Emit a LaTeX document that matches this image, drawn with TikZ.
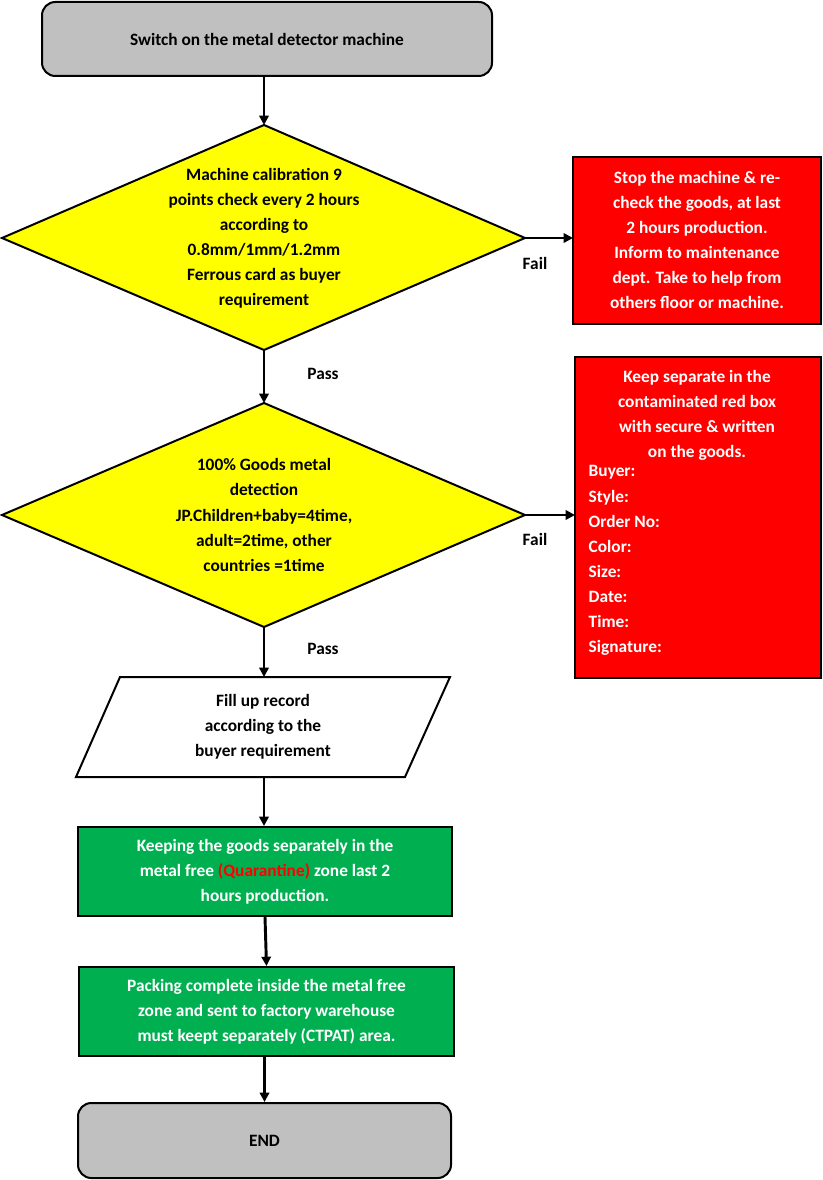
\documentclass[tikz,border=0pt]{standalone}
\usepackage{fontspec}
\setmainfont{Carlito}
\usetikzlibrary{arrows.meta,shapes.geometric}
\begin{document}
\begin{tikzpicture}[x=0.75pt,y=-0.75pt,
  txt/.style={font=\bfseries\fontsize{13}{18.8}\selectfont,align=center},
  box/.style={draw=black,line width=1.5pt},
  arr/.style={line width=2.2pt,-{Triangle[length=7pt,width=7pt]}},
  lbl/.style={font=\bfseries\fontsize{13}{16}\selectfont}]
\useasboundingbox (0,0) rectangle (823,1180);
\definecolor{gr}{RGB}{192,192,192}
\definecolor{yl}{RGB}{255,255,0}
\definecolor{rd}{RGB}{255,0,0}
\definecolor{gn}{RGB}{0,176,80}
% start
\draw[box,fill=gr,rounded corners=10pt] (42,2) rectangle (492,76);
\node[txt] (s) at (267,39) {Switch on the metal detector machine};
\coordinate (sb) at (264,76);
% diamond 1
\draw[box,fill=yl] (264,125) -- (525,238) -- (264,350) -- (2,238) -- cycle;
\coordinate (d1t) at (264,125); \coordinate (d1r) at (525,238); \coordinate (d1b) at (264,350);
\node[txt] (d1) at (264,238) {Machine calibration 9\\points check every 2 hours\\according to\\0.8mm/1mm/1.2mm\\Ferrous card as buyer\\requirement};
% red 1
\draw[box,fill=rd] (573,157) rectangle (821,324);
\coordinate (r1l) at (573,238);
\node[txt,text=white] (r1) at (697,240) {Stop the machine \& re-\\check the goods, at last\\2 hours production.\\Inform to maintenance\\dept. Take to help from\\others floor or machine.};
\draw[arr] (d1r) -- (r1l);
\node[lbl] (f1) at (535,263) {Fail};
\draw[arr] (sb) -- (d1t);
% diamond 2
\draw[box,fill=yl] (264,403) -- (525,515) -- (264,627) -- (2,515) -- cycle;
\coordinate (d2t) at (264,403); \coordinate (d2r) at (525,515); \coordinate (d2b) at (264,627);
\node[txt] (d2) at (264,515) {100\% Goods metal\\detection\\JP.Children+baby=4time,\\adult=2time, other\\countries =1time};
\draw[arr] (d1b) -- (d2t);
\node[lbl] (p1) at (323,374) {Pass};
% red 2
\draw[box,fill=rd] (575,357) rectangle (821,678);
\coordinate (r2l) at (575,515);
\node[txt,text=white] (r2a) at (697,415) {Keep separate in the\\contaminated red box\\with secure \& written\\on the goods.};
\node[txt,text=white,align=left,anchor=north west] (r2b) at (584,461) {Buyer:\\Style:\\Order No:\\Color:\\Size:\\Date:\\Time:\\Signature:};
\draw[arr] (d2r) -- (r2l);
\node[lbl] (f2) at (535,539) {Fail};
% parallelogram
\draw[box,fill=white] (120,677) -- (450,677) -- (405,777) -- (76,777) -- cycle;
\coordinate (pt) at (264,677); \coordinate (pb) at (264,777);
\node[txt] (pr) at (263,727) {Fill up record\\according to the\\buyer requirement};
\draw[arr] (d2b) -- (pt);
\node[lbl] (p2) at (323,649) {Pass};
% green 1
\node[box,fill=gn,minimum width=374*0.75pt,minimum height=89*0.75pt,txt,text=white] (g1) at (265,871.5) {Keeping the goods separately in the\\metal free {\color{rd}(Quarantine)} zone last 2\\hours production.};
\draw[arr] (pb) -- (g1.north -| pb);
% green 2
\node[box,fill=gn,minimum width=375*0.75pt,minimum height=89*0.75pt,txt,text=white] (g2) at (266.5,1011.5) {Packing complete inside the metal free\\zone and sent to factory warehouse\\must keept separately (CTPAT) area.};
\draw[arr] (g1.south) -- (g2.north);
% end
\node[box,fill=gr,rounded corners=10pt,minimum width=373*0.75pt,minimum height=75*0.75pt,txt] (e) at (264.5,1140.5) {END};
\draw[arr] (g2.south -| e.north) -- (e.north);
\end{tikzpicture}
\end{document}
